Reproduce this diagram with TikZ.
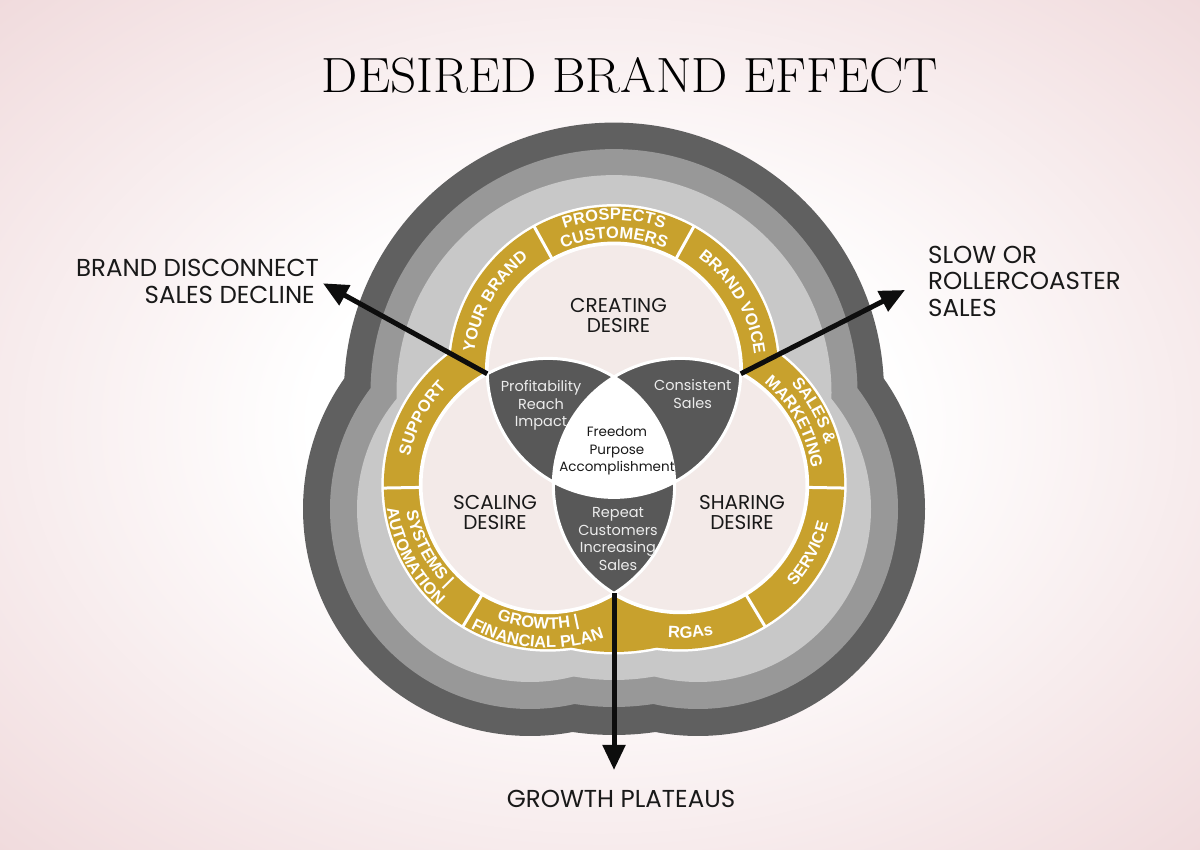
\documentclass[tikz,border=0pt]{standalone}
\usepackage{fontspec}
\usepackage{graphicx}
\usetikzlibrary{calc,arrows.meta,decorations.text}
\newfontfamily\gfont{Poppins}
\newfontfamily\bandfont{Liberation Sans}
\definecolor{bgpink}{RGB}{240,218,220}
\definecolor{pinkfill}{RGB}{243,234,232}
\definecolor{lensc}{RGB}{88,88,88}
\definecolor{goldc}{RGB}{200,161,45}
\definecolor{ringlight}{RGB}{200,200,200}
\definecolor{ringmid}{RGB}{152,152,152}
\definecolor{ringdark}{RGB}{96,96,96}
\definecolor{labelc}{RGB}{25,25,25}
\definecolor{lenstext}{RGB}{236,236,236}
\pgfdeclareradialshading{bgshade}{\pgfpointorigin}{color(0bp)=(white); color(12bp)=(white); color(36bp)=(bgpink); color(50bp)=(bgpink)}
\newcommand\bandfmt{\bandfont\bfseries\fontsize{16.5}{16.5}\selectfont}
\newcommand\arctext[5]{%
  \path[decorate,decoration={text along path,text format delimiters={[}{]},
    text={[\bandfmt]#5},text color=white,text align=center}]
    ($(#1)+(#3:#2)$) arc[start angle=#3,end angle=#4,radius=#2];}
% Venn-concentric layer (gold band and its white rim)
\newcommand\vennlayer[3]{%
  \fill[#3] (T) circle[radius=#1] (L) circle[radius=#1] (R) circle[radius=#1];
  \fill[#3] (O) -- ($(O)+(238:#2)$) arc[start angle=238,end angle=302,radius=#2] -- cycle;}
% grey ring: top lobe radius, side lobe radius, bottom radius, colour
\newcommand\grayring[4]{%
  \fill[#4] (TT) circle[radius=#1] (SL) circle[radius=#2] (SR) circle[radius=#2];
  \fill[#4] (O) -- ($(O)+(238:#3)$) arc[start angle=238,end angle=302,radius=#3] -- cycle;}
\tikzset{
  lbl/.style={font=\gfont\fontsize{20}{20}\selectfont, text=labelc, inner sep=0pt, anchor=base},
  side/.style={font=\gfont\fontsize{24.5}{24.5}\selectfont, text=labelc, inner sep=0pt},
  lens/.style={font=\gfont\fontsize{14.5}{14.5}\selectfont, text=lenstext, inner sep=0pt, anchor=base},
  core/.style={font=\gfont\fontsize{13.5}{13.5}\selectfont, text=labelc, inner sep=0pt, anchor=base},
  arr/.style={line width=5pt, draw=black!95, -{Triangle[length=25pt,width=22pt]}},
  sep/.style={draw=white, line width=3pt},
}
\begin{document}
\begin{tikzpicture}[x=1pt,y=1pt]
\useasboundingbox (0,0) rectangle (1200,850);
\shade[shading=bgshade] (0,0) rectangle (1200,850);
\coordinate (O) at (614,403);
\coordinate (T) at (614,479.4);
\coordinate (L) at (547.84,364.8);
\coordinate (R) at (680.16,364.8);
\coordinate (TT) at (614,457.4);
\coordinate (SL) at (530,341);
\coordinate (SR) at (698,341);
\coordinate (vL) at (487.2,476.2);
\coordinate (vR) at (740.8,476.2);
\coordinate (vB) at (614,256.6);
\coordinate (tL) at (323,566.7);
\coordinate (tR) at (905,560);
\coordinate (tB) at (614,80);
% rings
\grayring{270}{227}{288}{ringdark}
\grayring{243.5}{200}{260}{ringmid}
\grayring{217.5}{173}{233}{ringlight}
\vennlayer{166.5}{207.5}{white}
\vennlayer{164}{205}{goldc}
\fill[white] (T) circle[radius=129] (L) circle[radius=129] (R) circle[radius=129];
% separators
\foreach \c/\a in {T/119,T/61,L/181,L/239,R/301,R/359}
  \draw[sep] ($(\c)+(\a:128)$) -- ($(\c)+(\a:166)$);
% venn
\fill[pinkfill] (T) circle[radius=126.8] (L) circle[radius=126.8] (R) circle[radius=126.8];
\begin{scope}
  \clip (T) circle[radius=126.8];
  \fill[lensc] (L) circle[radius=126.8];
  \fill[lensc] (R) circle[radius=126.8];
\end{scope}
\begin{scope}
  \clip (L) circle[radius=126.8];
  \fill[lensc] (R) circle[radius=126.8];
\end{scope}
\begin{scope}
  \clip (T) circle[radius=126.8];
  \clip (L) circle[radius=126.8];
  \fill[white] (R) circle[radius=126.8];
\end{scope}
\draw[white, line width=3pt] (T) circle[radius=126.8] (L) circle[radius=126.8] (R) circle[radius=126.8];
% band texts
\arctext{T}{141}{180}{120}{YOUR BRAND}
\arctext{T}{150.6}{125}{55}{PROSPECTS}
\arctext{T}{132.3}{125}{55}{CUSTOMERS}
\arctext{T}{141}{60}{0}{BRAND VOICE}
\arctext{L}{141}{182}{122}{SUPPORT}
\arctext{L}{144}{174}{242}{SYSTEMS |}
\arctext{L}{162.6}{174}{242}{AUTOMATION}
\arctext{L}{144}{230}{302}{GROWTH |}
\arctext{L}{162.6}{230}{302}{FINANCIAL PLAN}
\arctext{R}{153}{242}{306}{RGAs}
\arctext{R}{153}{300}{364}{SERVICE}
\arctext{R}{150.6}{61}{-3}{SALES {\&}}
\arctext{R}{132.3}{61}{-3}{MARKETING}
% title
\node[inner sep=0pt, anchor=base] (title) at (630,757)
  {\resizebox{616pt}{35pt}{\fontsize{50}{50}\selectfont DESIRED BRAND EFFECT}};
% region labels
\node[lbl] (cr1) at (618.5,537.3) {CREATING};
\node[lbl] (cr2) at (618.5,517) {DESIRE};
\node[lbl] (sc1) at (495,340) {SCALING};
\node[lbl] (sc2) at (495,320) {DESIRE};
\node[lbl] (sh1) at (742,340) {SHARING};
\node[lbl] (sh2) at (742,320) {DESIRE};
\node[lens] (p1) at (541,458) {Profitability};
\node[lens] (p2) at (541,440.7) {Reach};
\node[lens] (p3) at (541,423) {Impact};
\node[lens] (c1) at (692.7,459.3) {Consistent};
\node[lens] (c2) at (692.7,441.7) {Sales};
\node[core] (f1) at (617,413) {Freedom};
\node[core] (f2) at (617,395) {Purpose};
\node[core] (f3) at (617,378.3) {Accomplishment};
\node[lens] (r1) at (618,332) {Repeat};
\node[lens] (r2) at (618,314.3) {Customers};
\node[lens] (r3) at (618,297) {Increasing};
\node[lens] (r4) at (618,279) {Sales};
% outside labels
\node[side, anchor=base east] (bd1) at (319,573.3) {BRAND DISCONNECT};
\node[side, anchor=base east] (bd2) at (315,546.7) {SALES DECLINE};
\node[side, anchor=base west] (sl1) at (928,586.7) {SLOW OR};
\node[side, anchor=base west] (sl2) at (928,560) {ROLLERCOASTER};
\node[side, anchor=base west] (sl3) at (928,533.3) {SALES};
\node[side, anchor=base] (gp) at (621,42) {GROWTH PLATEAUS};
% arrows
\draw[arr] (vL) -- (tL);
\draw[arr] (vR) -- (tR);
\draw[arr] (vB) -- (tB);
\end{tikzpicture}
\end{document}
